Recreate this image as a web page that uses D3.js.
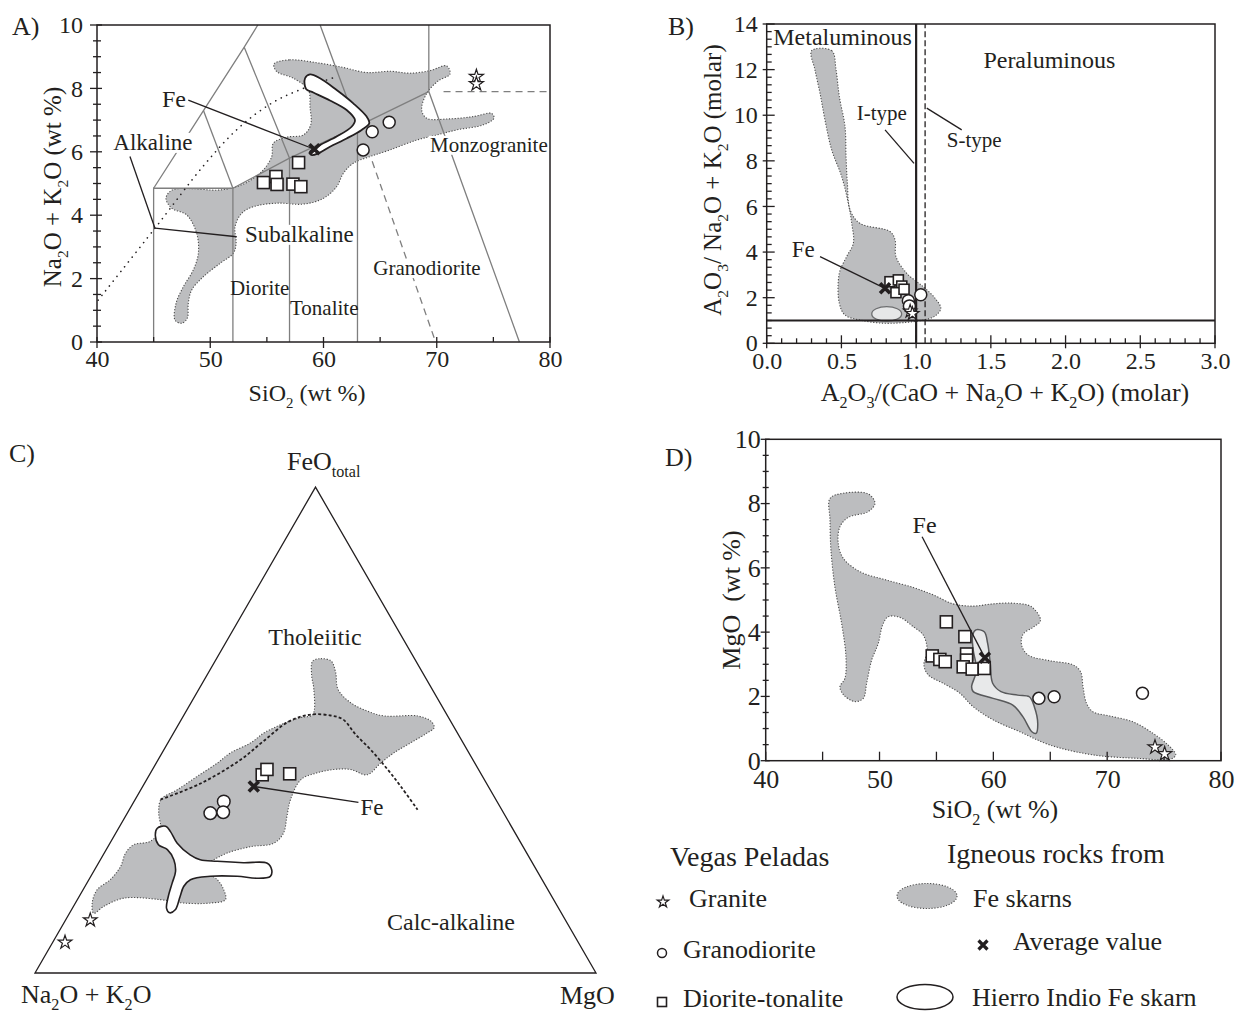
<!DOCTYPE html>
<html>
<head>
<meta charset="utf-8">
<script src="https://cdn.jsdelivr.net/npm/d3@7"></script>
<style>
  body { margin: 0; background: #fff; }
  text { font-family: "Liberation Serif", "Times New Roman", serif; fill: #231f20; }
</style>
</head>
<body>
<svg id="fig" width="1240" height="1013"></svg>
<script>
// ---------------- data ----------------
// A) total alkali vs silica (SiO2 wt %, Na2O+K2O wt %)
var tasGranite = [[73.5, 8.37], [73.5, 8.14]];
var tasGranodiorite = [[64.3, 6.63], [65.8, 6.93], [63.5, 6.06]];
var tasDioriteTonalite = [[57.8, 5.66], [54.7, 5.03], [55.8, 5.22], [55.9, 4.97], [57.3, 4.98], [58.0, 4.9]];
var tasAverage = [59.2, 6.08];
var tasSkarnField = [[55.63,8.77],[57.0,8.90],[59.40,8.81],[61.75,8.66],[63.81,8.50],[65.87,8.54],[67.64,8.48],[69.40,8.56],[70.88,8.71],[71.17,8.45],[70.14,8.24],[69.11,7.84],[68.67,7.32],[69.11,7.06],[71.17,7.04],[73.23,7.11],[74.85,7.21],[75.05,7.06],[74.11,6.85],[71.76,6.69],[69.99,6.53],[68.23,6.37],[65.87,6.06],[64.11,5.85],[62.63,5.64],[61.75,5.32],[61.16,4.90],[59.98,4.53],[58.22,4.35],[55.87,4.38],[53.81,4.27],[52.78,4.06],[52.19,3.64],[52.28,3.11],[52.04,2.80],[50.86,2.48],[49.39,2.06],[48.36,1.64],[48.06,1.22],[47.97,0.75],[47.48,0.59],[46.89,0.69],[46.98,1.22],[47.62,1.74],[48.50,2.27],[48.95,2.80],[48.80,3.43],[47.92,4.01],[46.6,4.22],[46.09,4.53],[46.6,4.79],[48.21,4.84],[50.57,4.79],[52.04,4.87],[53.36,5.06],[54.69,5.43],[55.43,5.85],[55.57,6.27],[56.75,6.46],[58.22,6.53],[58.87,6.85],[58.81,7.42],[58.66,7.95],[57.34,8.32],[55.87,8.53]];
var tasHierroIndio = [[58.37,8.32],[58.81,8.44],[59.69,8.32],[61.16,7.95],[62.63,7.53],[63.81,7.11],[64.04,6.90],[63.37,6.69],[62.04,6.42],[60.57,6.16],[59.54,5.95],[58.95,5.90],[58.81,6.00],[59.69,6.21],[61.16,6.48],[62.48,6.79],[62.78,7.00],[62.04,7.32],[60.57,7.62],[59.10,7.87],[58.46,7.98]];
var tasFieldLines = [
  [[45, 0], [45, 4.85], [52, 4.85], [52, 0]],
  [[45, 4.85], [49.4, 7.3], [53, 9.3], [54.2, 10]],
  [[52, 4.85], [49.4, 7.3]],
  [[53, 9.3], [57, 5.8], [57, 0]],
  [[52, 4.85], [57, 5.8], [63, 6.8], [69.3, 7.9]],
  [[59.7, 10], [63, 6.8], [63, 0]],
  [[69.3, 10], [69.3, 7.9], [77.3, 0]]
];
var tasDashedLines = [[[70.6, 7.9], [80, 7.9]], [[64.3, 5.7], [69.9, 0]]];
var tasAlkalineDivide = [[40.1,1.32],[45.12,3.59],[49.5,5.6],[52.5,6.75],[55.5,7.55],[58.22,8.0],[61.16,8.37]];

// B) A/NK vs A/CNK (molar)
var asiGranite = [[0.96, 1.40], [0.975, 1.30]];
var asiGranodiorite = [[1.031, 2.13], [0.948, 1.87], [0.955, 1.64]];
var asiDioriteTonalite = [[0.825, 2.70], [0.881, 2.78], [0.904, 2.51], [0.865, 2.22], [0.919, 2.37]];
var asiAverage = [0.792, 2.41];
var asiSkarnField = [[0.301,12.83],[0.435,12.83],[0.464,11.99],[0.486,10.82],[0.524,9.50],[0.531,8.18],[0.540,7.02],[0.558,5.85],[0.624,5.26],[0.825,4.90],[0.859,4.53],[0.865,3.80],[0.937,3.07],[1.048,2.48],[1.127,1.97],[1.165,1.53],[1.127,1.20],[1.048,1.02],[0.937,0.92],[0.781,0.88],[0.624,1.02],[0.524,1.24],[0.486,1.75],[0.486,3.07],[0.535,3.80],[0.580,4.39],[0.569,5.26],[0.546,6.14],[0.502,7.31],[0.435,8.48],[0.390,9.79],[0.357,10.96],[0.323,11.99]];
var asiHierroIndio = { center: [0.803, 1.29], half: [0.1, 0.32] };
var asiMetaluminousLimit = 1.0;
var asiITypeLimit = 1.06;
var ankLimit = 1.0;

// C) AFM ternary, values as [FeO_total %, MgO %]; Na2O+K2O = 100 - both
var afmGranite = [[10.9, 4.4], [6.3, 2.2]];
var afmGranodiorite = [[32.9, 14.8], [35.3, 16.0], [33.1, 17.0]];
var afmDioriteTonalite = [[40.8, 20.1], [41.9, 20.4], [41.0, 24.9]];
var afmAverage = [38.4, 19.8];
var afmTholeiiticDivide = [[35.7,4.5],[39,10],[43.9,14.7],[47.6,16.8],[51.8,19.4],[53.2,22.6],[53,26.2],[52.2,28.8],[49.1,32.6],[46,36.8],[41.9,41.9],[38.4,46],[33.6,51.4]];
var afmSkarnField = [[64.2,17.4],[64.7,18.6],[64.2,20.7],[61.8,22.7],[58.4,24.8],[55.6,28.5],[53.9,32.3],[52.9,35.8],[52.9,41.8],[51.8,44.7],[50.5,45.9],[49.4,45.2],[47.4,43.3],[45.3,41.3],[43.2,40.0],[40.8,38.8],[41.9,35.3],[41.9,32.4],[41.2,29.7],[39.8,27.5],[35.7,27.7],[32.2,28.8],[28.8,29.9],[26.7,29.2],[26.0,25.4],[24.7,21.9],[23.3,20.2],[21.7,18.7],[19.2,22.9],[17.1,25.1],[15.1,26.4],[14.4,24.1],[14.4,19.3],[15.1,14.8],[15.4,8.1],[13.7,5.4],[12.3,4.3],[14.4,3.0],[17.1,2.5],[19.2,3.8],[21.9,4.3],[24.7,3.8],[26.4,4.4],[27.1,7.0],[29.5,7.6],[32.9,5.6],[35.7,4.6],[37.7,6.5],[40.5,8.7],[43.2,10.9],[45.3,12.2],[47.4,14.8],[49.4,16.1],[50.8,17.8],[51.8,19.4],[52.6,21.1],[53.2,22.9],[58.4,20.5],[61.4,18.6]];
var afmHierroIndio = [[29.8,6.9],[28.3,7.3],[26.4,8.8],[25.4,10.9],[23.3,13.1],[20.9,14.6],[18.5,15.2],[15.7,15.9],[13.3,16.8],[12.4,17.8],[13.0,18.5],[15.7,18.0],[17.8,17.6],[19.2,18.1],[19.9,21.3],[19.9,26.1],[19.5,29.8],[19.9,32.0],[21.2,31.6],[22.6,30.1],[22.7,25.8],[23.0,21.0],[23.3,17.8],[24.3,15.5],[26.7,12.0],[29.1,9.6],[30.2,8.2]];

// D) MgO vs SiO2 (wt %)
var mgoGranite = [[74.2, 0.42], [75.05, 0.21]];
var mgoGranodiorite = [[64.0, 1.94], [65.34, 1.99], [73.1, 2.1]];
var mgoDioriteTonalite = [[55.87,4.32],[57.5,3.86],[57.65,3.32],[57.65,3.13],[54.63,3.26],[55.3,3.15],[55.77,3.08],[57.35,2.92],[58.14,2.85],[59.2,2.87]];
var mgoAverage = [59.26, 3.2];
var mgoSkarnField = [[45.65,8.16],[46.81,8.32],[49.01,8.30],[49.60,8.01],[49.01,7.75],[47.25,7.57],[46.52,7.28],[46.37,6.76],[46.81,6.30],[48.28,5.88],[50.62,5.62],[52.96,5.39],[54.71,5.16],[56.47,4.88],[58.23,4.81],[59.98,4.88],[61.74,4.90],[63.35,4.79],[64.14,4.36],[63.49,4.15],[62.62,3.94],[62.48,3.60],[63.05,3.29],[64.96,3.11],[67.01,2.98],[67.66,2.77],[67.88,2.30],[68.18,1.79],[68.76,1.52],[70.23,1.39],[72.27,1.21],[74.03,0.85],[75.35,0.49],[76.02,0.18],[75.50,0.04],[72.87,0.07],[68.76,0.18],[64.96,0.49],[62.33,0.90],[59.98,1.27],[58.23,1.68],[57.06,2.10],[55.59,2.41],[54.28,2.67],[53.90,2.98],[54.19,3.44],[53.84,3.91],[52.96,4.17],[51.79,4.46],[50.76,4.48],[50.27,4.22],[49.89,3.65],[49.31,3.13],[48.87,2.41],[48.57,1.94],[47.84,1.84],[46.87,2.04],[46.52,2.30],[46.96,2.56],[47.05,3.24],[46.67,4.27],[46.08,5.41],[45.73,6.56],[45.65,7.49]];
var mgoHierroIndio = [[58.47,4.07],[59.20,4.01],[59.50,3.65],[59.73,3.03],[59.94,2.41],[60.67,2.15],[62.14,2.04],[63.16,1.99],[63.60,1.68],[63.90,1.16],[63.75,0.85],[63.38,0.90],[62.59,1.37],[61.71,1.73],[59.98,1.94],[58.23,2.15],[58.09,2.30],[58.53,2.82],[58.23,3.44],[58.18,3.91]];

var tasXTickLabels = [40, 50, 60, 70, 80];
var tasYTickLabels = [0, 2, 4, 6, 8, 10];
var asiXTickLabels = [0, 0.5, 1.0, 1.5, 2.0, 2.5, 3.0];
var asiYTickLabels = [0, 2, 4, 6, 8, 10, 12, 14];

// ---------------- drawing ----------------
var INK = '#231f20';
var FIELD = '#bcbdbf';
var FIELD_EDGE = '#4d4d4d';
var svg = d3.select('#fig');

function rich(sel, parts, fs) {
    // parts: [text, isSub]
    var shift = fs * 0.28, down = false;
    parts.forEach(function (p) {
        var sub = !!p[1];
        var dy = 0;
        if (sub && !down) dy = shift;
        if (!sub && down) dy = -shift;
        down = sub;
        sel.append('tspan').text(p[0])
            .attr('font-size', sub ? fs * 0.62 : fs)
            .attr('dy', dy);
    });
    return sel;
}

function label(g, x, y, txt, fs, anchor) {
    return g.append('text').attr('x', x).attr('y', y)
        .attr('font-size', fs).attr('text-anchor', anchor || 'start').text(txt);
}

// white knock-out behind a label, like the reference
function knockout(g, t) {
    var b = t.node().getBBox();
    g.insert('rect', function () { return t.node(); })
        .attr('x', b.x - 1).attr('y', b.y + 3)
        .attr('width', b.width + 2).attr('height', b.height - 5)
        .attr('fill', '#fff');
}

function frame(g, x, y) {
    g.append('rect')
        .attr('x', x.range()[0]).attr('y', y.range()[1])
        .attr('width', x.range()[1] - x.range()[0])
        .attr('height', y.range()[0] - y.range()[1])
        .attr('fill', 'none').attr('stroke', INK).attr('stroke-width', 1.5);
}

function xTicks(g, x, y, vals, isMajor, up, down, upMinor, downMinor) {
    var y0 = y.range()[0];
    g.selectAll(null).data(vals).enter().append('line')
        .attr('x1', d => x(d)).attr('x2', d => x(d))
        .attr('y1', d => y0 + (isMajor(d) ? down : downMinor))
        .attr('y2', d => y0 - (isMajor(d) ? up : upMinor))
        .attr('stroke', INK).attr('stroke-width', 1.3);
}

function yTicks(g, x, y, vals, isMajor, left, right, leftMinor, rightMinor) {
    var x0 = x.range()[0];
    g.selectAll(null).data(vals).enter().append('line')
        .attr('y1', d => y(d)).attr('y2', d => y(d))
        .attr('x1', d => x0 - (isMajor(d) ? left : leftMinor))
        .attr('x2', d => x0 + (isMajor(d) ? right : rightMinor))
        .attr('stroke', INK).attr('stroke-width', 1.3);
}

function tickLabels(g, axis, pos, fs) {
    var a = g.append('g').attr('transform', pos).call(axis);
    a.select('.domain').remove();
    a.selectAll('text').style('font-size', fs + 'px');
    return a;
}

function field(g, pts, line) {
    g.append('path').datum(pts).attr('d', line)
        .attr('fill', FIELD).attr('stroke', FIELD_EDGE)
        .attr('stroke-width', 1.1).attr('stroke-dasharray', '1.2 1.7');
}

function drawMarkers(g, pts, kind, px, py, size) {
    var sel = g.selectAll(null).data(pts).enter();
    if (kind == 'star') {
        sel.append('path')
            .attr('d', d3.symbol(d3.symbolStar).size(size))
            .attr('transform', d => 'translate(' + px(d) + ',' + py(d) + ')')
            .attr('fill', '#fff').attr('stroke', INK).attr('stroke-width', 1.2);
    } else if (kind == 'circle') {
        sel.append('circle').attr('cx', px).attr('cy', py).attr('r', size)
            .attr('fill', '#fff').attr('stroke', INK).attr('stroke-width', 1.5);
    } else if (kind == 'square') {
        sel.append('rect')
            .attr('x', d => px(d) - size / 2).attr('y', d => py(d) - size / 2)
            .attr('width', size).attr('height', size)
            .attr('fill', '#fff').attr('stroke', INK).attr('stroke-width', 1.6);
    } else if (kind == 'cross') {
        sel.append('path')
            .attr('d', 'M' + (-size) + ',' + (-size) + 'L' + size + ',' + size + 'M' + (-size) + ',' + size + 'L' + size + ',' + (-size))
            .attr('transform', d => 'translate(' + px(d) + ',' + py(d) + ')')
            .attr('stroke', INK).attr('stroke-width', 3.6).attr('fill', 'none');
    }
}

function leader(g, a, b) {
    g.append('line').attr('x1', a[0]).attr('y1', a[1]).attr('x2', b[0]).attr('y2', b[1])
        .attr('stroke', INK).attr('stroke-width', 1.3);
}

// ---------- A) ----------
(function () {
    var g = svg.append('g');
    var x = d3.scaleLinear([40, 80], [97, 550]);
    var y = d3.scaleLinear([0, 10], [342, 25]);
    var px = d => x(d[0]), py = d => y(d[1]);
    var line = d3.line().x(px).y(py);
    var smooth = d3.line().x(px).y(py).curve(d3.curveCatmullRomClosed.alpha(0.5));

    field(g, tasSkarnField, smooth);

    g.selectAll(null).data(tasFieldLines).enter().append('path')
        .attr('d', line).attr('fill', 'none').attr('stroke', '#7f7f7f').attr('stroke-width', 1.3);
    g.selectAll(null).data(tasDashedLines).enter().append('path')
        .attr('d', line).attr('fill', 'none').attr('stroke', '#7f7f7f').attr('stroke-width', 1.3)
        .attr('stroke-dasharray', '7 5');
    g.append('path').datum(tasAlkalineDivide)
        .attr('d', d3.line().x(px).y(py).curve(d3.curveCatmullRom))
        .attr('fill', 'none').attr('stroke', INK).attr('stroke-width', 1.6)
        .attr('stroke-dasharray', '0.1 6').attr('stroke-linecap', 'round');

    g.append('path').datum(tasHierroIndio).attr('d', smooth)
        .attr('fill', '#fff').attr('stroke', INK).attr('stroke-width', 1.8);

    frame(g, x, y);
    xTicks(g, x, y, d3.range(40, 80.1, 5), d => d % 10 == 0, 5, 6, 5, 0);
    yTicks(g, x, y, d3.range(0, 10.01, 0.5), d => d % 2 == 0, 7, 5, 4, 4);
    tickLabels(g, d3.axisBottom(x).tickValues(tasXTickLabels).tickSize(0).tickPadding(8), 'translate(0,342)', 24);
    tickLabels(g, d3.axisLeft(y).tickValues(tasYTickLabels).tickSize(0).tickPadding(14), 'translate(97,0)', 24);

    leader(g, [x(48.06), y(7.63)], [x(tasAverage[0]), y(tasAverage[1])]);
    leader(g, [x(42.91), y(5.85)], [x(45.12), y(3.59)]);
    leader(g, [x(45.12), y(3.59)], [x(52.34), y(3.32)]);

    drawMarkers(g, tasDioriteTonalite, 'square', px, py, 12);
    drawMarkers(g, tasGranodiorite, 'circle', px, py, 6);
    drawMarkers(g, tasGranite, 'star', px, py, 62);
    drawMarkers(g, [tasAverage], 'cross', px, py, 5);

    label(g, x(45.74), y(7.42), 'Fe', 24);
    knockout(g, label(g, x(41.44), y(6.06), 'Alkaline', 23));
    knockout(g, label(g, x(53.07), y(3.16), 'Subalkaline', 23));
    label(g, x(51.74), y(1.48), 'Diorite', 21);
    label(g, x(57.04), y(0.85), 'Tonalite', 21);
    knockout(g, label(g, x(64.4), y(2.11), 'Granodiorite', 21));
    knockout(g, label(g, x(69.4), y(6.0), 'Monzogranite', 21));

    label(g, 12, 35, 'A)', 26);
    rich(g.append('text').attr('x', 307).attr('y', 401).attr('text-anchor', 'middle'),
        [['SiO'], ['2', 1], [' (wt %)']], 24);
    rich(g.append('text').attr('transform', 'translate(61,187) rotate(-90)').attr('text-anchor', 'middle'),
        [['Na'], ['2', 1], ['O + K'], ['2', 1], ['O (wt %)']], 25);
})();

// ---------- B) ----------
(function () {
    var g = svg.append('g');
    var x = d3.scaleLinear([0, 3], [766.7, 1215]);
    var y = d3.scaleLinear([0, 14], [343.3, 24]);
    var px = d => x(d[0]), py = d => y(d[1]);
    var smooth = d3.line().x(px).y(py).curve(d3.curveCatmullRomClosed.alpha(0.5));

    field(g, asiSkarnField, smooth);
    var e = asiHierroIndio;
    g.append('ellipse')
        .attr('cx', x(e.center[0])).attr('cy', y(e.center[1]))
        .attr('rx', x(e.center[0] + e.half[0]) - x(e.center[0]))
        .attr('ry', y(e.center[1]) - y(e.center[1] + e.half[1]))
        .attr('fill', '#e6e7e8').attr('stroke', '#6d6e70').attr('stroke-width', 1.3);

    g.append('line').attr('x1', x(asiMetaluminousLimit)).attr('x2', x(asiMetaluminousLimit))
        .attr('y1', y(0)).attr('y2', y(14)).attr('stroke', INK).attr('stroke-width', 2.2);
    g.append('line').attr('x1', x(asiITypeLimit)).attr('x2', x(asiITypeLimit))
        .attr('y1', y(0)).attr('y2', y(14)).attr('stroke', INK).attr('stroke-width', 1.3)
        .attr('stroke-dasharray', '6 3');
    g.append('line').attr('x1', x(0)).attr('x2', x(3))
        .attr('y1', y(ankLimit)).attr('y2', y(ankLimit)).attr('stroke', INK).attr('stroke-width', 2.2);

    frame(g, x, y);
    xTicks(g, x, y, d3.range(0, 31).map(i => i / 10), d => Math.round(d * 10) % 5 == 0, 8, 5, 5, 0);
    yTicks(g, x, y, d3.range(0, 43).map(i => i / 3), d => Math.round(d * 3) % 6 == 0, 4, 8, 0, 5);
    tickLabels(g, d3.axisBottom(x).tickValues(asiXTickLabels).tickSize(0).tickPadding(9).tickFormat(d3.format('.1f')), 'translate(0,343.3)', 24);
    tickLabels(g, d3.axisLeft(y).tickValues(asiYTickLabels).tickSize(0).tickPadding(9), 'translate(766.7,0)', 24);

    leader(g, [x(0.792), y(9.36)], [x(0.986), y(7.89)]);
    leader(g, [x(1.071), y(10.31)], [x(1.305), y(9.36)]);
    leader(g, [x(0.357), y(3.8)], [x(asiAverage[0]), y(asiAverage[1])]);

    drawMarkers(g, asiDioriteTonalite, 'square', px, py, 10);
    drawMarkers(g, asiGranodiorite, 'circle', px, py, 6);
    drawMarkers(g, asiGranite, 'star', px, py, 55);
    drawMarkers(g, [asiAverage], 'cross', px, py, 5);

    label(g, x(0.044), y(13.08), 'Metaluminous', 24);
    label(g, x(1.45), y(12.06), 'Peraluminous', 24);
    label(g, x(0.602), y(9.79), 'I-type', 21);
    label(g, x(1.205), y(8.6), 'S-type', 21);
    label(g, x(0.167), y(3.8), 'Fe', 23);

    label(g, 668, 35, 'B)', 26);
    rich(g.append('text').attr('x', 1005).attr('y', 401).attr('text-anchor', 'middle'),
        [['A'], ['2', 1], ['O'], ['3', 1], ['/(CaO + Na'], ['2', 1], ['O + K'], ['2', 1], ['O) (molar)']], 26);
    rich(g.append('text').attr('transform', 'translate(721,180) rotate(-90)').attr('text-anchor', 'middle'),
        [['A'], ['2', 1], ['O'], ['3', 1], ['/ Na'], ['2', 1], ['O + K'], ['2', 1], ['O (molar)']], 25);
})();

// ---------- C) ----------
(function () {
    var g = svg.append('g');
    var left = 35, base = 973, side = 561;
    var t = d3.scaleLinear([0, 100], [0, side]);
    var h = d3.scaleLinear([0, 100], [base, base - side * Math.sqrt(3) / 2]);
    // d = [FeO_total, MgO]
    var px = d => left + t(d[1]) + t(d[0]) / 2, py = d => h(d[0]);
    var smooth = d3.line().x(px).y(py).curve(d3.curveCatmullRomClosed.alpha(0.5));

    field(g, afmSkarnField, smooth);
    g.append('path').datum(afmTholeiiticDivide)
        .attr('d', d3.line().x(px).y(py).curve(d3.curveCatmullRom))
        .attr('fill', 'none').attr('stroke', INK).attr('stroke-width', 1.8)
        .attr('stroke-dasharray', '3 2.2');
    g.append('path').datum(afmHierroIndio).attr('d', smooth)
        .attr('fill', '#fff').attr('stroke', INK).attr('stroke-width', 1.6);

    var corners = [[0, 0], [100, 0], [0, 100]];
    g.append('path').datum(corners)
        .attr('d', d3.line().x(px).y(py).curve(d3.curveLinearClosed))
        .attr('fill', 'none').attr('stroke', INK).attr('stroke-width', 1.3);

    leader(g, [px(afmAverage), py(afmAverage)], [px([35.1, 40.1]), py([35.1, 40.1])]);
    drawMarkers(g, afmDioriteTonalite, 'square', px, py, 12);
    drawMarkers(g, afmGranodiorite, 'circle', px, py, 6.3);
    drawMarkers(g, afmGranite, 'star', px, py, 58);
    drawMarkers(g, [afmAverage], 'cross', px, py, 5);

    label(g, px([67.6, 16.1]), py([67.6, 16.1]), 'Tholeiitic', 24, 'middle');
    label(g, px([8.9, 58.3]), py([8.9, 58.3]), 'Calc-alkaline', 24);
    label(g, px([32.6, 41.7]), py([32.6, 41.7]), 'Fe', 23);

    rich(g.append('text').attr('x', 287).attr('y', 470), [['FeO'], ['total', 1]], 26);
    rich(g.append('text').attr('x', 21).attr('y', 1003), [['Na'], ['2', 1], ['O + K'], ['2', 1], ['O']], 26);
    label(g, 560, 1004, 'MgO', 26);
    label(g, 9, 462, 'C)', 26);
})();

// ---------- D) ----------
(function () {
    var g = svg.append('g');
    var x = d3.scaleLinear([40, 80], [765.7, 1221]);
    var y = d3.scaleLinear([0, 10], [760.7, 439.3]);
    var px = d => x(d[0]), py = d => y(d[1]);
    var smooth = d3.line().x(px).y(py).curve(d3.curveCatmullRomClosed.alpha(0.5));

    field(g, mgoSkarnField, smooth);
    g.append('path').datum(mgoHierroIndio).attr('d', smooth)
        .attr('fill', '#e8e9ea').attr('stroke', '#58595b').attr('stroke-width', 1.5);

    frame(g, x, y);
    xTicks(g, x, y, d3.range(40, 80.1, 5), d => true, 9, 0, 9, 0);
    yTicks(g, x, y, d3.range(0, 10.01, 0.5), d => d % 2 == 0, 5, 4, 3, 3);
    tickLabels(g, d3.axisBottom(x).tickValues(tasXTickLabels).tickSize(0).tickPadding(9), 'translate(0,760.7)', 26);
    tickLabels(g, d3.axisLeft(y).tickValues(tasYTickLabels).tickSize(0).tickPadding(5), 'translate(765.7,0)', 26);

    drawMarkers(g, mgoDioriteTonalite, 'square', px, py, 12);
    drawMarkers(g, mgoGranodiorite, 'circle', px, py, 6);
    drawMarkers(g, mgoGranite, 'star', px, py, 62);
    leader(g, [x(53.74), y(6.97)], [x(mgoAverage[0]), y(mgoAverage[1])]);
    drawMarkers(g, [mgoAverage], 'cross', px, py, 5);
    label(g, x(52.9), y(7.08), 'Fe', 24);

    label(g, 665, 466, 'D)', 26);
    rich(g.append('text').attr('x', 995).attr('y', 818).attr('text-anchor', 'middle'),
        [['SiO'], ['2', 1], [' (wt %)']], 26);
    label(g, 0, 0, 'MgO  (wt %)', 26, 'middle').attr('transform', 'translate(740,600) rotate(-90)')
        .attr('x', null).attr('y', null).style('white-space', 'pre');
})();

// ---------- legend ----------
(function () {
    var g = svg.append('g');
    var at = d => d[0], bt = d => d[1];
    label(g, 670, 866, 'Vegas Peladas', 28);
    label(g, 947, 863, 'Igneous rocks from', 28);

    drawMarkers(g, [[663, 902]], 'star', at, bt, 42);
    label(g, 689, 907, 'Granite', 26);
    drawMarkers(g, [[662, 953]], 'circle', at, bt, 4.5);
    label(g, 683, 958, 'Granodiorite', 26);
    drawMarkers(g, [[662, 1002]], 'square', at, bt, 9);
    label(g, 683, 1007, 'Diorite-tonalite', 26);

    g.append('ellipse').attr('cx', 927).attr('cy', 896).attr('rx', 30).attr('ry', 12.5)
        .attr('fill', FIELD).attr('stroke', FIELD_EDGE).attr('stroke-width', 1.1)
        .attr('stroke-dasharray', '1.2 1.7');
    label(g, 973, 907, 'Fe skarns', 26);
    g.append('path').attr('d', 'M-4.5,-4.5L4.5,4.5M-4.5,4.5L4.5,-4.5')
        .attr('transform', 'translate(983,945)').attr('stroke', INK).attr('stroke-width', 3.2);
    label(g, 1013, 950, 'Average value', 26);
    g.append('ellipse').attr('cx', 925).attr('cy', 997).attr('rx', 28).attr('ry', 12.5)
        .attr('fill', '#fff').attr('stroke', INK).attr('stroke-width', 1.5);
    label(g, 972, 1006, 'Hierro Indio Fe skarn', 26);
})();
</script>
</body>
</html>
